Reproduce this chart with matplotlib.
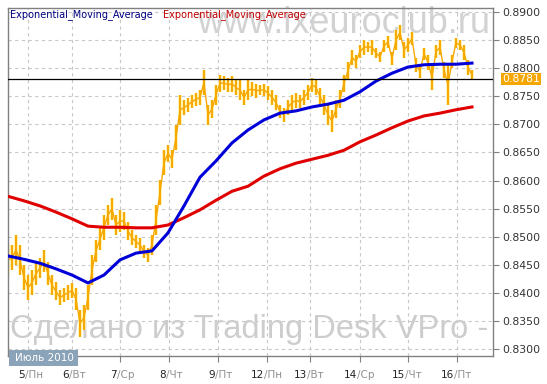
import numpy as np
import matplotlib.pyplot as plt
from matplotlib.patches import Rectangle
from matplotlib.transforms import blended_transform_factory

# price bars (high/low), one bar every 4 px in the original
hi = [0.8485, 0.8485, 0.8503, 0.8485, 0.8450, 0.8432, 0.8441, 0.8455, 0.8462, 0.8476,
      0.8455, 0.8432, 0.8419, 0.8405, 0.8409, 0.8414, 0.8418, 0.8409, 0.8370, 0.8379,
      0.8414, 0.8468, 0.8494, 0.8516, 0.8539, 0.8557, 0.8569, 0.8539, 0.8548, 0.8544,
      0.8526, 0.8512, 0.8503, 0.8498, 0.8485, 0.8480, 0.8503, 0.8557, 0.8601, 0.8654,
      0.8663, 0.8654, 0.8699, 0.8752, 0.8743, 0.8747, 0.8752, 0.8756, 0.8761, 0.8797,
      0.8735, 0.8743, 0.8770, 0.8788, 0.8786, 0.8783, 0.8786, 0.8779, 0.8779, 0.8761,
      0.8779, 0.8775, 0.8772, 0.8770, 0.8772, 0.8768, 0.8761, 0.8752, 0.8735, 0.8729,
      0.8743, 0.8752, 0.8756, 0.8752, 0.8761, 0.8770, 0.8783, 0.8779, 0.8765, 0.8752,
      0.8735, 0.8726, 0.8743, 0.8761, 0.8788, 0.8811, 0.8832, 0.8824, 0.8841, 0.8850,
      0.8847, 0.8850, 0.8836, 0.8829, 0.8850, 0.8857, 0.8829, 0.8868, 0.8877, 0.8847,
      0.8854, 0.8864, 0.8818, 0.8806, 0.8836, 0.8824, 0.8806, 0.8841, 0.8850, 0.8811,
      0.8806, 0.8824, 0.8854, 0.8850, 0.8841, 0.8815, 0.8797]
lo = [0.8432, 0.8441, 0.8450, 0.8432, 0.8405, 0.8387, 0.8396, 0.8414, 0.8427, 0.8437,
      0.8414, 0.8396, 0.8387, 0.8379, 0.8384, 0.8387, 0.8391, 0.8370, 0.8322, 0.8334,
      0.8370, 0.8414, 0.8455, 0.8476, 0.8494, 0.8521, 0.8530, 0.8503, 0.8508, 0.8512,
      0.8494, 0.8485, 0.8480, 0.8473, 0.8462, 0.8455, 0.8468, 0.8503, 0.8557, 0.8610,
      0.8633, 0.8622, 0.8654, 0.8699, 0.8717, 0.8722, 0.8729, 0.8733, 0.8735, 0.8752,
      0.8699, 0.8711, 0.8735, 0.8758, 0.8761, 0.8758, 0.8758, 0.8752, 0.8743, 0.8735,
      0.8743, 0.8751, 0.8747, 0.8752, 0.8751, 0.8743, 0.8735, 0.8726, 0.8711, 0.8704,
      0.8717, 0.8726, 0.8729, 0.8729, 0.8735, 0.8743, 0.8758, 0.8752, 0.8735, 0.8717,
      0.8699, 0.8686, 0.8711, 0.8729, 0.8758, 0.8779, 0.8806, 0.8800, 0.8818, 0.8824,
      0.8829, 0.8824, 0.8818, 0.8811, 0.8829, 0.8836, 0.8806, 0.8832, 0.8850, 0.8818,
      0.8829, 0.8841, 0.8793, 0.8783, 0.8815, 0.8797, 0.8761, 0.8818, 0.8824, 0.8783,
      0.8735, 0.8800, 0.8836, 0.8832, 0.8815, 0.8788, 0.8779]

# EMA values read every 4 bars
ema_fast = [0.8466, 0.8460, 0.8453, 0.8443, 0.8432, 0.8418, 0.8432, 0.8459, 0.8471, 0.8475,
            0.8507, 0.8555, 0.8606, 0.8635, 0.8667, 0.8690, 0.8708, 0.8720, 0.8724, 0.8731,
            0.8736, 0.8743, 0.8758, 0.8777, 0.8791, 0.8802, 0.8806, 0.8807, 0.8807, 0.8809]
ema_slow = [0.8572, 0.8564, 0.8555, 0.8544, 0.8532, 0.8519, 0.8517, 0.8517, 0.8516, 0.8516,
            0.8521, 0.8534, 0.8548, 0.8565, 0.8581, 0.8590, 0.8608, 0.8621, 0.8631, 0.8638,
            0.8645, 0.8654, 0.8669, 0.8681, 0.8694, 0.8706, 0.8715, 0.8720, 0.8726, 0.8731]

last_price = 0.8781

# day starts (bar index) and labels
day_pos = [5, 16, 28, 40.25, 52.5, 64.75, 75.5, 88, 100, 112.25]
day_num = ['5', '6', '7', '8', '9', '12', '13', '14', '15', '16']
day_name = ['Пн', 'Вт', 'Ср', 'Чт', 'Пт', 'Пн', 'Вт', 'Ср', 'Чт', 'Пт']

y_ticks = [0.8300, 0.8350, 0.8400, 0.8450, 0.8500, 0.8550, 0.8600,
           0.8650, 0.8700, 0.8750, 0.8800, 0.8850, 0.8900]

bar_x = np.arange(len(hi))
ema_x = np.arange(0, len(hi), 4)

fig = plt.figure(figsize=(5.47, 3.84), dpi=100)
ax = fig.add_axes([8 / 547, 28 / 384, 485 / 547, 348 / 384])

ax.set_xlim(0, 121.25)
ax.set_ylim(0.8288, 0.8907)

# grid
ax.set_yticks(y_ticks)
ax.set_yticklabels(['%.4f' % v for v in y_ticks])
ax.set_xticks(day_pos)
ax.set_xticklabels([])
ax.grid(True, color='#c8c8c8', linestyle=(0, (3, 3)), linewidth=0.8)
ax.set_axisbelow(True)

ax.yaxis.tick_right()
ax.tick_params(axis='y', direction='out', length=4, color='#808080',
               labelsize=7.8, labelcolor='#333333', pad=3)
ax.tick_params(axis='x', direction='out', length=4, color='#808080')
for s in ax.spines.values():
    s.set_color('#808080')
    s.set_linewidth(1)

# watermarks
ax.text(0.3897, 0.928, 'www.ixeuroclub.ru', transform=ax.transAxes,
        fontsize=26, family='Liberation Sans', color='#d2d2d2',
        ha='left', va='baseline', zorder=1)
ax.text(0.0041, 0.0517, 'Сделано из Trading Desk VPro -', transform=ax.transAxes,
        fontsize=23.5, family='Liberation Sans', color='#cdcdcd',
        ha='left', va='baseline', zorder=1, clip_on=False)

# price bars
ax.vlines(bar_x, lo, hi, color='#fff1a8', linewidth=2.6, zorder=2)
ax.plot(bar_x, [(a + b) / 2 for a, b in zip(hi, lo)], color='#f7a800',
        linewidth=1.0, zorder=2.1)
ax.vlines(bar_x, lo, hi, color='#f7a800', linewidth=1.4, zorder=2.2)

# moving averages
ax.plot(ema_x, ema_slow, color='#e00000', linewidth=2.2, zorder=3)
ax.plot(ema_x, ema_fast, color='#0000d8', linewidth=2.2, zorder=3.1)

# last price line and label
ax.axhline(last_price, color='black', linewidth=0.9, zorder=4)
trans = blended_transform_factory(ax.transAxes, ax.transData)
ax.text(1 + 9 / 485, last_price, '%.4f' % last_price, transform=trans,
        fontsize=7.8, color='white', ha='left', va='center',
        bbox=dict(boxstyle='square,pad=0.12', fc='#f5a700', ec='none'))

# legend-like titles
ax.text(2 / 485, 0.980, 'Exponential_Moving_Average', transform=ax.transAxes,
        fontsize=7, color='#000080', ha='left', va='center', zorder=5)
ax.text(155 / 485, 0.980, 'Exponential_Moving_Average', transform=ax.transAxes,
        fontsize=7, color='#c00000', ha='left', va='center', zorder=5)

# x labels: number in black, weekday in grey
for p, n, d in zip(day_pos, day_num, day_name):
    ax.annotate(n, xy=(p, -0.0546), xycoords=('data', 'axes fraction'),
                xytext=(-2.2, 0), textcoords='offset points',
                ha='right', va='center', fontsize=7.5, color='#222222')
    ax.annotate('/' + d, xy=(p, -0.0546), xycoords=('data', 'axes fraction'),
                xytext=(-2.2, 0), textcoords='offset points',
                ha='left', va='center', fontsize=7.5, color='#909090')

# month box
ax.add_patch(Rectangle((1 / 485, -10 / 348), 69 / 485, 16 / 348, transform=ax.transAxes,
                       facecolor='#8aa3b8', edgecolor='none', clip_on=False, zorder=6))
ax.text(36.5 / 485, -2 / 348, 'Июль 2010', transform=ax.transAxes, fontsize=7.5,
        color='white', ha='center', va='center', zorder=7)

fig.savefig('out.png', dpi=100)
